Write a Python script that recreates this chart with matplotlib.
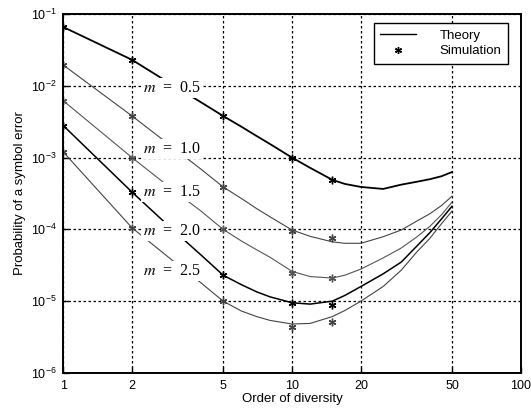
import matplotlib
matplotlib.use("Agg")
import numpy as np
import matplotlib.pyplot as plt
from matplotlib.lines import Line2D

plt.rcParams['font.family'] = ['Liberation Sans', 'DejaVu Sans']
plt.rcParams['mathtext.fontset'] = 'custom'
plt.rcParams['mathtext.rm'] = 'Liberation Sans'
plt.rcParams['mathtext.it'] = 'Liberation Sans:italic'

# theory curves
x_theory = [1, 2, 3, 4, 5, 6, 7, 8, 10, 12, 15, 17, 20, 25, 30, 35, 40, 45, 50]
pe_m05 = [0.066, 0.023, 1.03e-2, 5.9e-3, 3.8e-3, 2.7e-3, 2.0e-3, 1.55e-3, 1.0e-3,
          7.2e-4, 4.9e-4, 4.3e-4, 3.9e-4, 3.66e-4, 4.2e-4, 4.6e-4, 5.0e-4, 5.5e-4, 6.3e-4]
pe_m10 = [0.0195, 3.8e-3, 1.4e-3, 6.9e-4, 3.9e-4, 2.7e-4, 1.95e-4, 1.5e-4, 9.8e-5,
          8.0e-5, 6.7e-5, 6.4e-5, 6.4e-5, 7.9e-5, 9.8e-5, 1.3e-4, 1.65e-4, 2.15e-4, 2.9e-4]
pe_m15 = [6.2e-3, 1.0e-3, 3.6e-4, 1.8e-4, 1.0e-4, 6.9e-5, 5.2e-5, 4.1e-5, 2.6e-5,
          2.2e-5, 2.1e-5, 2.3e-5, 2.8e-5, 4.0e-5, 5.5e-5, 7.8e-5, 1.1e-4, 1.6e-4, 2.4e-4]
pe_m20 = [2.8e-3, 3.3e-4, 1.0e-4, 4.4e-5, 2.3e-5, 1.7e-5, 1.35e-5, 1.15e-5, 9.5e-6,
          9.1e-6, 1.0e-5, 1.2e-5, 1.6e-5, 2.4e-5, 3.5e-5, 5.8e-5, 9.0e-5, 1.4e-4, 2.1e-4]
pe_m25 = [1.2e-3, 1.05e-4, 3.7e-5, 1.8e-5, 1.0e-5, 7.3e-6, 6.1e-6, 5.4e-6, 4.8e-6,
          4.9e-6, 6.1e-6, 7.4e-6, 1.0e-5, 1.6e-5, 2.7e-5, 4.8e-5, 7.5e-5, 1.2e-4, 1.8e-4]

# simulation points
x_sim = [1, 2, 5, 10, 15]
sim_m05 = [0.066, 0.023, 3.8e-3, 1.0e-3, 4.9e-4]
sim_m10 = [0.0195, 3.8e-3, 3.9e-4, 9.6e-5, 7.6e-5]
sim_m15 = [6.2e-3, 1.0e-3, 1.0e-4, 2.5e-5, 2.1e-5]
sim_m20 = [2.8e-3, 3.3e-4, 2.3e-5, 9.3e-6, 8.8e-6]
sim_m25 = [1.2e-3, 1.05e-4, 1.0e-5, 4.3e-6, 5.1e-6]

m_labels = ['0.5', '1.0', '1.5', '2.0', '2.5']
label_y = [9.3e-3, 1.3e-3, 3.3e-4, 9.5e-5, 2.6e-5]

x_ticks = [1, 2, 5, 10, 20, 50, 100]

theory = [pe_m05, pe_m10, pe_m15, pe_m20, pe_m25]
sims = [sim_m05, sim_m10, sim_m15, sim_m20, sim_m25]
colors = ['black', '#444444', '#555555', 'black', '#444444']
widths = [1.3, 0.8, 0.8, 1.1, 0.8]

fig = plt.figure(figsize=(5.31, 4.13), dpi=100)
ax = fig.add_axes([0.119, 0.097, 0.862, 0.869])

for pe, sim, c, w in zip(theory, sims, colors, widths):
    ax.plot(x_theory, pe, color=c, lw=w)
    ax.plot(x_sim, sim, ls='none', marker=(6, 2, 0), ms=5.5, mew=1.0, color=c)

for lab, yy in zip(m_labels, label_y):
    ax.text(3.0, yy, r'$m$  =  ' + lab, ha='center', va='center', fontsize=11.5,
            fontfamily='Liberation Serif', math_fontfamily='stix',
            bbox=dict(facecolor='white', edgecolor='none', pad=1.5), zorder=5)

ax.set_xscale('log')
ax.set_yscale('log')
ax.set_xlim(1, 100)
ax.set_ylim(1e-6, 1e-1)
ax.set_xticks(x_ticks)
ax.set_xticklabels([str(t) for t in x_ticks])
ax.set_yticks([1e-6, 1e-5, 1e-4, 1e-3, 1e-2, 1e-1])
ax.set_yticklabels([r'$10^{-%d}$' % k for k in [6, 5, 4, 3, 2, 1]])
ax.minorticks_off()
ax.tick_params(direction='in', length=4, width=1, labelsize=9, pad=5)
ax.grid(True, which='major', color='black', ls=(0, (2, 2)), lw=0.9)
for s in ax.spines.values():
    s.set_linewidth(1.4)

ax.set_xlabel('Order of diversity', fontsize=9.5, labelpad=1)
ax.set_ylabel('Probability of a symbol error', fontsize=9.5, labelpad=3)

handles = [Line2D([], [], color='black', lw=1.0),
           Line2D([], [], ls='none', marker=(6, 2, 0), ms=5, mew=1.0, color='black')]
leg = ax.legend(handles, ['Theory', 'Simulation'], loc='upper right',
                bbox_to_anchor=(0.972, 0.975), borderaxespad=0, fontsize=9.5,
                fancybox=False, framealpha=1, edgecolor='black',
                handlelength=2.7, handletextpad=1.8, labelspacing=0.25,
                borderpad=0.5)
leg.get_frame().set_linewidth(1.0)

plt.savefig('out.png', dpi=100)
